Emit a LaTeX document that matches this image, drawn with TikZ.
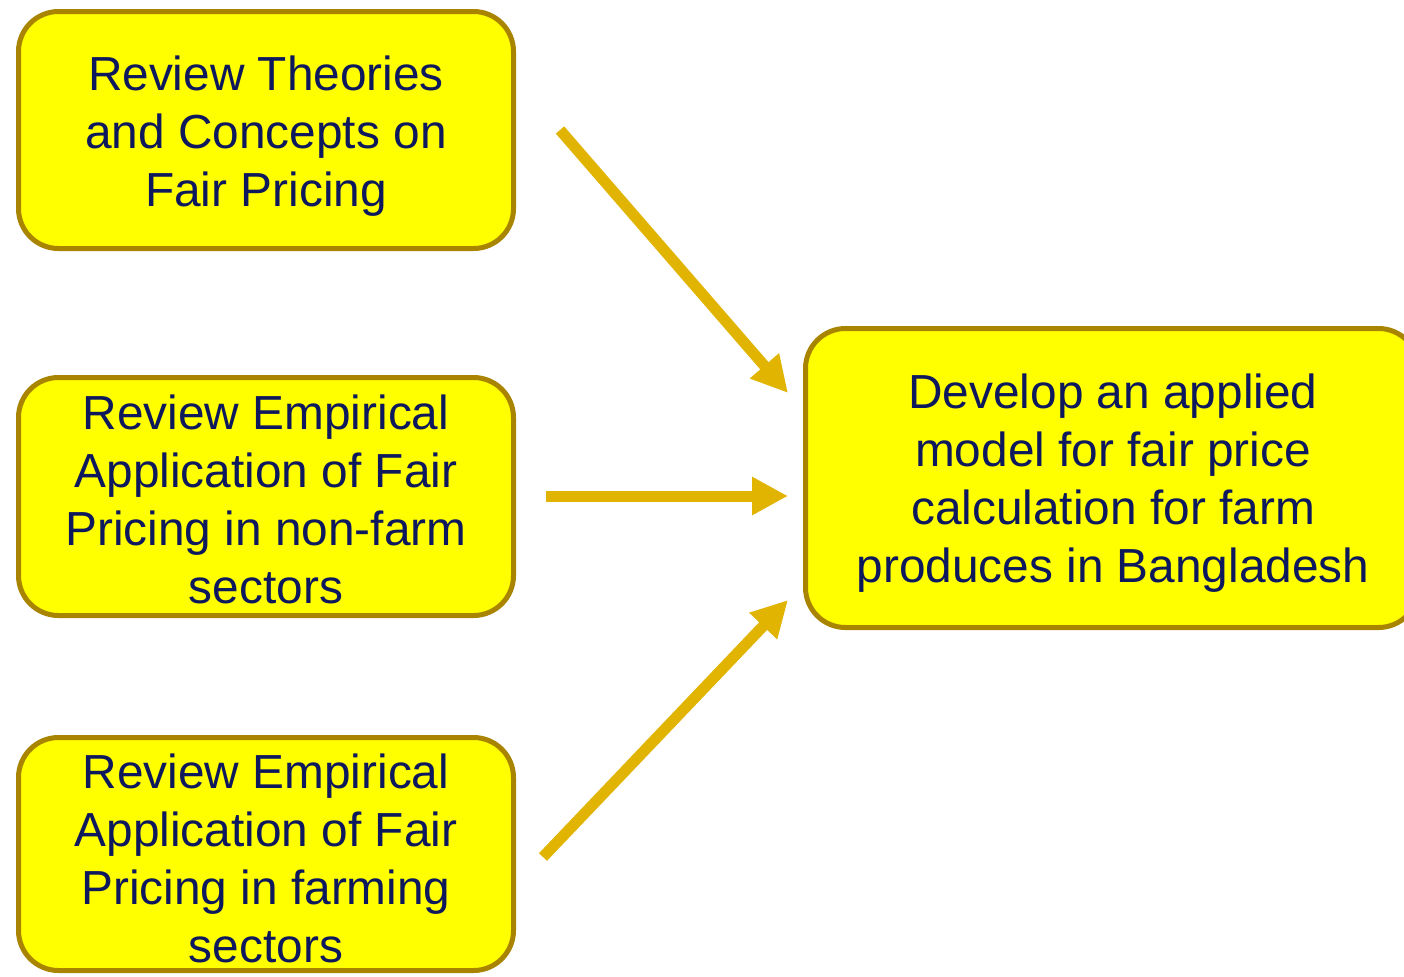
\documentclass[tikz,border=0pt]{standalone}
\usepackage{fontspec}
\setmainfont{Liberation Sans}
\usetikzlibrary{arrows.meta}
\definecolor{boxfill}{RGB}{255,255,0}
\definecolor{boxline}{RGB}{168,132,0}
\definecolor{textnavy}{RGB}{14,24,92}
\definecolor{arrowgold}{RGB}{224,180,0}
\tikzset{
  stagebox/.style={draw=boxline, line width=2.5pt, fill=boxfill, rounded corners=20pt,
    inner sep=0pt},
  stagetext/.style={text=textnavy, align=center, inner sep=0pt,
    font=\fontsize{23.9}{29}\selectfont},
  flowarrow/.style={draw=arrowgold, line width=5.5pt,
    -{Triangle[length=18pt,width=18pt]}}
}
\begin{document}
\begin{tikzpicture}[x=0.5pt,y=-0.5pt]
\useasboundingbox (0,0) rectangle (1404,976);
% input reviews on the left
\node[stagebox, minimum width=247.5pt, minimum height=118.5pt] (theory) at (266,130) {};
\node[stagetext] (theory-text) at (266,136)
  {Review Theories\\and Concepts on\\Fair Pricing};
\node[stagebox, minimum width=247.5pt, minimum height=119pt] (nonfarm) at (266,496.5) {};
\node[stagetext] (nonfarm-text) at (266,499)
  {Review Empirical\\Application of Fair\\Pricing in non-farm\\sectors};
\node[stagebox, minimum width=247.5pt, minimum height=116.5pt] (farm) at (266,854) {};
\node[stagetext] (farm-text) at (266,858)
  {Review Empirical\\Application of Fair\\Pricing in farming\\sectors};
% resulting model on the right
\node[stagebox, minimum width=306.5pt, minimum height=149.5pt] (model) at (1112,478) {};
\node[stagetext] (model-text) at (1113,483)
  {Develop an applied\\model for fair price\\calculation for farm\\produces in Bangladesh};
% arrow end points
\coordinate (a1s) at (560,130);
\coordinate (a1e) at (788,393);
\coordinate (a2s) at (546,496);
\coordinate (a2e) at (788,496);
\coordinate (a3s) at (543,857);
\coordinate (a3e) at (788,600);
\draw[flowarrow] (a1s) -- (a1e);
\draw[flowarrow] (a2s) -- (a2e);
\draw[flowarrow] (a3s) -- (a3e);
\end{tikzpicture}
\end{document}
